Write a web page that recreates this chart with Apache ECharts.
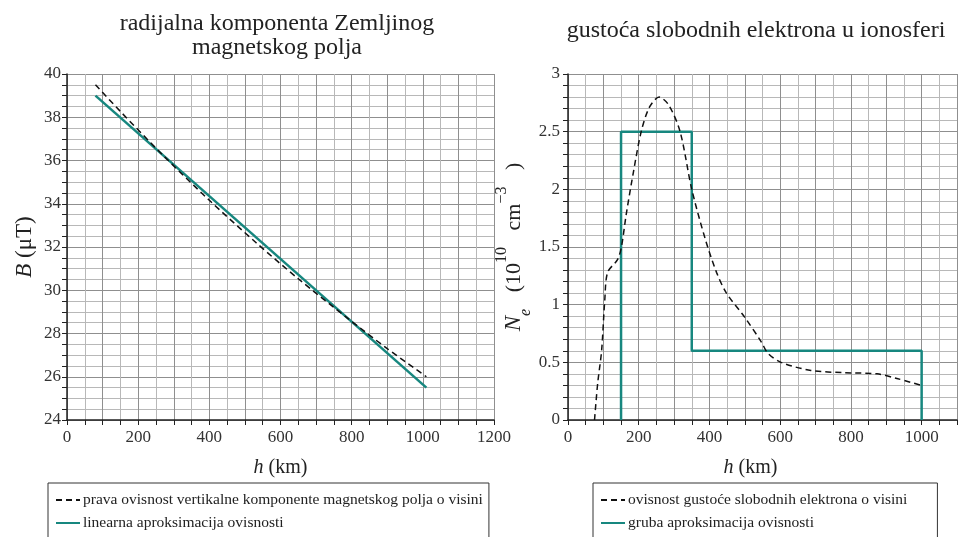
<!DOCTYPE html>
<html>
<head>
<meta charset="utf-8">
<script src="https://cdn.jsdelivr.net/npm/echarts@6/dist/echarts.min.js"></script>
<style>
html,body{margin:0;padding:0;background:#fff;}
#c{width:960px;height:537px;}
</style>
</head>
<body>
<div id="c"></div>
<script>
// ---- data: left chart (B vs h) ----
const hB = [80, 150, 270, 400, 530, 650, 790, 900, 1010];
const bTrue = [39.5, 38.27, 36.24, 34.16, 32.22, 30.53, 28.69, 27.3, 26.0];
const hLin = [80, 1010];
const bLin = [39.0, 25.5];
// ---- data: right chart (Ne vs h) ----
const hNe = [75, 84, 95, 104, 112, 140, 151, 165, 185, 207, 230, 258, 285, 317, 350, 389, 420, 448, 500, 546, 565, 602, 687, 781, 874, 930, 1000];
const ne = [0, 0.32, 0.6, 1.04, 1.28, 1.39, 1.5, 1.79, 2.15, 2.5, 2.71, 2.8, 2.73, 2.5, 2.0, 1.56, 1.28, 1.1, 0.89, 0.68, 0.58, 0.5, 0.43, 0.41, 0.4, 0.36, 0.3];
const hStep = [150, 150, 350, 350, 1000, 1000];
const neStep = [0, 2.5, 2.5, 0.6, 0.6, 0];
// ---- text ----
const titleLeft = 'radijalna komponenta Zemljinog\nmagnetskog polja';
const titleRight = 'gustoća slobodnih elektrona u ionosferi';
const nameTrue = 'prava ovisnost vertikalne komponente magnetskog polja o visini';
const nameLin = 'linearna aproksimacija ovisnosti';
const nameNe = 'ovisnost gustoće slobodnih elektrona o visini';
const nameStep = 'gruba aproksimacija ovisnosti';

const pairs = (xs, ys) => xs.map((x, i) => [x, ys[i]]);
const SERIF = '"Liberation Serif", "DejaVu Serif", serif';
const TEAL = '#17877f';
const AX = '#222';

function xAxisCfg(gridIndex, max, nameShift) {
  return {
    type: 'value', gridIndex, min: 0, max, interval: 100,
    name: '{i|h} (km)', nameLocation: 'middle', nameGap: 38,
    nameTextStyle: { fontFamily: SERIF, fontSize: 20, color: '#222', padding: [0, nameShift, 0, 0],
      rich: { i: { fontStyle: 'italic', fontFamily: SERIF, fontSize: 20, color: '#222' } } },
    axisLine: { show: true, lineStyle: { color: AX, width: 1.5 } },
    axisTick: { show: true, inside: false, length: 5, lineStyle: { color: AX } },
    minorTick: { show: true, splitNumber: 2, length: 5, lineStyle: { color: AX } },
    axisLabel: { fontFamily: SERIF, fontSize: 17, color: '#333', margin: 9,
      formatter: v => (v % 200 === 0 ? String(v) : '') },
    splitLine: { show: true, lineStyle: { color: '#8f8f8f', width: 1 } },
    minorSplitLine: { show: true, lineStyle: { color: '#b8b8b8', width: 1 } }
  };
}

function legendCfg(names, left, padRight) {
  return {
    data: names, orient: 'vertical', left, top: 483, height: 120,
    padding: [9, padRight, 24, 7], itemGap: 7, itemWidth: 24, itemHeight: 14,
    borderColor: '#333', borderWidth: 1, backgroundColor: '#fff',
    itemStyle: { opacity: 0 },
    textStyle: { fontFamily: SERIF, fontSize: 15.5, color: '#222', padding: [0, 0, 0, -2] }
  };
}

const option = {
  animation: false,
  backgroundColor: '#fff',
  title: [
    { text: titleLeft, left: 272, top: 7, textAlign: 'center',
      textStyle: { fontFamily: SERIF, fontSize: 24, fontWeight: 'normal', color: '#222', lineHeight: 24 } },
    { text: titleRight, left: 751, top: 14, textAlign: 'center',
      textStyle: { fontFamily: SERIF, fontSize: 24, fontWeight: 'normal', color: '#222' } }
  ],
  grid: [
    { left: 67, right: 466, top: 74, bottom: 117 },
    { left: 568, right: -1, top: 74, bottom: 117 }
  ],
  xAxis: [xAxisCfg(0, 1200, 0), xAxisCfg(1, 1100, 24)],
  yAxis: [
    {
      type: 'value', gridIndex: 0, min: 24, max: 40, interval: 2,
      name: '{i|B} (μT)', nameLocation: 'middle', nameGap: 31, nameRotate: 90,
      nameTextStyle: { fontFamily: SERIF, fontSize: 23, color: '#222',
        rich: { i: { fontStyle: 'italic', fontFamily: SERIF, fontSize: 23, color: '#222' } } },
      axisLine: { show: true, lineStyle: { color: AX, width: 1.5 } },
      axisTick: { show: true, length: 5, lineStyle: { color: AX } },
      minorTick: { show: true, splitNumber: 4, length: 5, lineStyle: { color: AX } },
      axisLabel: { fontFamily: SERIF, fontSize: 17, color: '#333', margin: 6 },
      splitLine: { show: true, lineStyle: { color: '#8f8f8f', width: 1 } },
      minorSplitLine: { show: true, lineStyle: { color: '#b8b8b8', width: 1 } }
    },
    {
      type: 'value', gridIndex: 1, min: 0, max: 3, interval: 0.5,
      name: '{i|N}{sub|e}{n|   (10}{sup|10}{n|   cm}{sup|−3}{n|   )}', nameLocation: 'middle', nameGap: 34, nameRotate: 90,
      nameTextStyle: { fontFamily: SERIF, fontSize: 22, color: '#222',
        rich: {
          i: { fontStyle: 'italic', fontFamily: SERIF, fontSize: 23, color: '#222', lineHeight: 40, verticalAlign: 'middle' },
          n: { fontFamily: SERIF, fontSize: 22, color: '#222', lineHeight: 40, verticalAlign: 'middle' },
          sub: { fontStyle: 'italic', fontFamily: SERIF, fontSize: 16, color: '#222', verticalAlign: 'bottom', lineHeight: 26 },
          sup: { fontFamily: SERIF, fontSize: 16, color: '#222', verticalAlign: 'top', lineHeight: 14 }
        } },
      axisLine: { show: true, lineStyle: { color: AX, width: 1.5 } },
      axisTick: { show: true, length: 5, lineStyle: { color: AX } },
      minorTick: { show: true, splitNumber: 5, length: 5, lineStyle: { color: AX } },
      axisLabel: { fontFamily: SERIF, fontSize: 17, color: '#333', margin: 8 },
      splitLine: { show: true, lineStyle: { color: '#8f8f8f', width: 1 } },
      minorSplitLine: { show: true, lineStyle: { color: '#b8b8b8', width: 1 } }
    }
  ],
  legend: [legendCfg([nameTrue, nameLin], 48, 6), legendCfg([nameNe, nameStep], 593, 30)],
  series: [
    { name: nameTrue, type: 'line', xAxisIndex: 0, yAxisIndex: 0, data: pairs(hB, bTrue),
      smooth: 0.3, showSymbol: false, symbol: 'none', color: '#111',
      lineStyle: { color: '#111', width: 1.5, type: [6, 4] }, z: 3 },
    { name: nameLin, type: 'line', xAxisIndex: 0, yAxisIndex: 0, data: pairs(hLin, bLin),
      showSymbol: false, symbol: 'none', color: TEAL,
      lineStyle: { color: TEAL, width: 2.5 }, z: 2 },
    { name: nameNe, type: 'line', xAxisIndex: 1, yAxisIndex: 1, data: pairs(hNe, ne),
      smooth: 0.3, showSymbol: false, symbol: 'none', color: '#111',
      lineStyle: { color: '#111', width: 1.5, type: [6, 4] }, z: 3 },
    { name: nameStep, type: 'line', xAxisIndex: 1, yAxisIndex: 1, data: pairs(hStep, neStep),
      showSymbol: false, symbol: 'none', color: TEAL,
      lineStyle: { color: TEAL, width: 2.5 }, z: 2 }
  ]
};
const chart = echarts.init(document.getElementById('c'));
chart.setOption(option);
</script>
</body>
</html>
